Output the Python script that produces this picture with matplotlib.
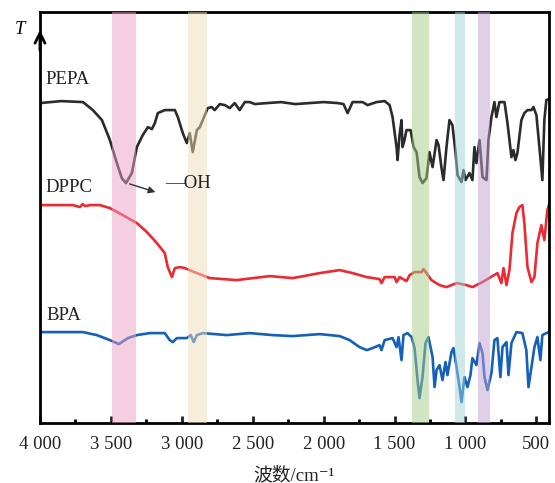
import numpy as np
import matplotlib.pyplot as plt
from matplotlib.ticker import MultipleLocator, FuncFormatter

# 波数 (cm-1) 與透過率 (任意單位, 已錯開)
pepa_wn = [4000, 3850, 3697, 3627, 3563, 3507, 3458, 3423, 3394, 3352, 3317, 3275, 3239, 3211, 3190, 3169,
           3120, 3049, 3028, 2993, 2965, 2944, 2923, 2894, 2873, 2852, 2817, 2789, 2768, 2732, 2697, 2662,
           2627, 2592, 2556, 2521, 2486, 2400, 2300, 2200, 2100, 2000, 1900, 1860, 1831, 1796, 1725, 1690,
           1627, 1570, 1535, 1514, 1486, 1479, 1465, 1451, 1444, 1430, 1416, 1387, 1366, 1345, 1324, 1303,
           1275, 1254, 1232, 1204, 1190, 1169, 1155, 1134, 1113, 1092, 1070, 1056, 1028, 1014, 1000, 972,
           951, 937, 923, 901, 880, 852, 838, 817, 796, 782, 761, 725, 704, 676, 662, 648, 634, 606, 585,
           563, 535, 521, 500, 479, 458, 444, 430, 415]
pepa_t = [320, 322, 321, 313, 303, 283, 260, 245, 240, 250, 276, 288, 296, 294, 300, 310,
          313, 313, 306, 290, 280, 290, 271, 293, 296, 303, 315, 316, 313, 319, 318, 315,
          320, 313, 321, 321, 319, 320, 321, 319, 320, 321, 320, 319, 310, 321, 321, 318,
          321, 322, 318, 306, 276, 263, 288, 303, 276, 283, 293, 293, 276, 271, 246, 240,
          245, 271, 256, 283, 278, 255, 243, 276, 303, 298, 270, 248, 241, 253, 243, 250,
          243, 276, 260, 283, 246, 243, 283, 306, 321, 306, 321, 321, 300, 266, 273, 263, 270, 303, 310,
          313, 313, 316, 308, 276, 243, 303, 323, 324]

dppc_wn = [4000, 3768, 3718, 3700, 3680, 3648, 3577, 3507, 3416, 3317, 3246, 3176, 3120, 3099, 3070,
           3049, 3014, 2979, 2894, 2803, 2613, 2380, 2218, 2028, 1887, 1796, 1697, 1606, 1592, 1570,
           1500, 1486, 1465, 1416, 1394, 1359, 1310, 1296, 1275, 1240, 1183, 1134, 1063, 993, 951,
           880, 810, 775, 747, 732, 711, 690, 669, 641, 620, 599, 585, 563, 535, 514, 493, 465, 444, 423, 408]
dppc_t = [218, 218, 216, 219, 217, 218, 218, 215, 208, 200, 191, 180, 170, 156, 146,
          155, 156, 155, 150, 145, 143, 147, 145, 150, 153, 150, 146, 144, 140, 146,
          146, 141, 146, 142, 148, 151, 151, 154, 150, 143, 138, 136, 140, 138, 136,
          141, 147, 150, 140, 155, 138, 153, 190, 210, 216, 218, 200, 156, 141, 146, 180, 198, 183, 213, 220]

bpa_wn = [4000, 3697, 3599, 3507, 3444, 3380, 3317, 3225, 3120, 3085, 3063, 3035, 2965, 2937, 2916,
          2894, 2852, 2683, 2521, 2359, 2218, 2028, 1887, 1817, 1747, 1697, 1655, 1606, 1592, 1570,
          1514, 1486, 1472, 1451, 1437, 1409, 1380, 1359, 1338, 1324, 1303, 1282, 1261, 1232, 1218,
          1204, 1183, 1162, 1141, 1127, 1099, 1085, 1063, 1042, 1028, 1007, 986, 965, 951, 923,
          901, 880, 866, 845, 817, 796, 775, 754, 739, 711, 697, 676, 641, 599, 571,
          556, 535, 514, 493, 472, 458, 430, 408]
bpa_t = [91, 91, 88, 83, 79, 85, 88, 90, 90, 83, 81, 85, 85, 88, 81,
         88, 90, 88, 90, 88, 87, 89, 87, 83, 76, 73, 75, 78, 73, 83,
         85, 76, 86, 63, 88, 90, 86, 75, 43, 25, 46, 80, 86, 66, 36,
         53, 58, 43, 61, 48, 71, 75, 56, 36, 21, 46, 36, 48, 65, 58,
         80, 70, 46, 33, 50, 83, 85, 46, 76, 81, 48, 80, 91, 90, 73,
         36, 56, 76, 86, 63, 88, 90, 91]

# 標示的吸收帶 (cm-1)
bands = [(3495, 3325), (2959, 2819), (1377, 1257), (1075, 1004), (913, 828)]
band_colors = ['#e9a1c5', '#efddbb', '#a7cd87', '#a1d5d7', '#c1a1d5']

serif = ['Liberation Serif', 'Noto Sans CJK SC', 'DejaVu Serif']

fig = plt.figure(figsize=(5.55, 4.83), dpi=100)
ax = fig.add_axes([0.072, 0.124, 0.917, 0.851])

ax.plot(pepa_wn, pepa_t, color='#2b2b2b', lw=1.9, solid_joinstyle='round')
ax.plot(dppc_wn, dppc_t, color='#ec2a33', lw=1.9, solid_joinstyle='round')
ax.plot(bpa_wn, bpa_t, color='#1560b8', lw=1.9, solid_joinstyle='round')

for (a, b), c in zip(bands, band_colors):
    ax.axvspan(b, a, color=c, alpha=0.5, lw=0, zorder=3)

ax.set_xlim(4000, 412)
ax.set_ylim(0, 411)

ax.xaxis.set_major_locator(MultipleLocator(500))
ax.xaxis.set_minor_locator(MultipleLocator(250))
ax.xaxis.set_major_formatter(FuncFormatter(lambda v, p: f'{int(v):,}'.replace(',', ' ')))
ax.tick_params(axis='x', which='major', direction='in', length=5, width=2, pad=9, colors='#222222')
ax.tick_params(axis='x', which='minor', direction='in', length=3, width=2)
ax.set_yticks([])
for lab in ax.get_xticklabels():
    lab.set_family(serif)
    lab.set_fontsize(13.5)
for s in ax.spines.values():
    s.set_linewidth(2)

ax.set_xlabel('波数/cm⁻¹', family=serif, fontsize=13.5, labelpad=10, color='#222222')

# 縱軸箭頭與 T
ax.annotate('', xy=(0, 0.963), xytext=(0, 0.9), xycoords='axes fraction',
            arrowprops=dict(arrowstyle='->', lw=2, color='k', mutation_scale=18))
fig.text(0.036, 0.938, 'T', family=serif, style='italic', fontsize=13.5, ha='center', va='center')

tkw = dict(transform=ax.transAxes, family=serif, fontsize=13.5, va='center', color='#222222')
ax.text(0.01, 0.835, 'PEPA', **tkw)
ax.text(0.01, 0.574, 'DPPC', **tkw)
ax.text(0.012, 0.263, 'BPA', **tkw)
ax.text(0.245, 0.584, '—OH', **tkw)
ax.annotate('', xy=(0.232, 0.560), xytext=(0.171, 0.584), xycoords='axes fraction',
            arrowprops=dict(arrowstyle='-|>', lw=1.0, color='#333333', mutation_scale=10))

plt.savefig('out.png', dpi=100)
